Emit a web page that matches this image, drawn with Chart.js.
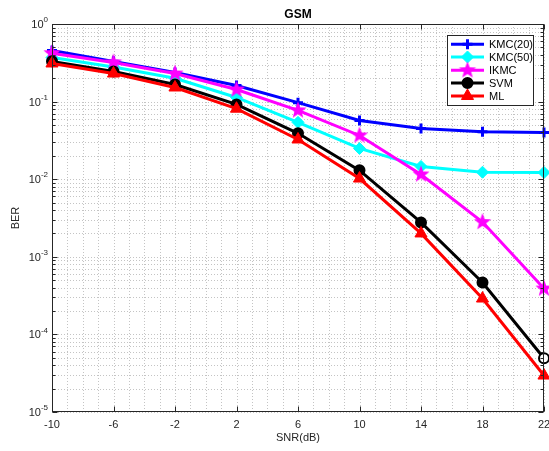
<!DOCTYPE html>
<html>
<head>
<meta charset="utf-8">
<script src="https://cdn.jsdelivr.net/npm/chart.js@4.4.1/dist/chart.umd.min.js"></script>
<style>
html, body { margin: 0; padding: 0; background: #fff; }
</style>
</head>
<body>
<canvas id="chart" width="549" height="451"></canvas>
<script>
const snr = [-10, -6, -2, 2, 6, 10, 14, 18, 22];
const kmc20 = [0.456, 0.33, 0.237, 0.161, 0.097, 0.057, 0.045, 0.041, 0.040];
const kmc50 = [0.37, 0.28, 0.20, 0.113, 0.054, 0.0249, 0.0146, 0.0123, 0.0122];
const ikmc = [0.42, 0.32, 0.23, 0.143, 0.077, 0.0366, 0.0115, 0.0028, 0.00039];
const svm = [0.33, 0.245, 0.166, 0.092, 0.039, 0.013, 0.00277, 0.000467, 0.0000493];
const ml = [0.31, 0.23, 0.152, 0.081, 0.0325, 0.0102, 0.0020, 0.00029, 0.0000295];
const seriesNames = ['KMC(20)', 'KMC(50)', 'IKMC', 'SVM', 'ML'];
const xTicks = [-10, -6, -2, 2, 6, 10, 14, 18, 22];
const yTickExps = [0, -1, -2, -3, -4, -5];

const FONT = '"Liberation Sans", Arial, sans-serif';
const TEXT = '#262626';

// filled five point star, matlab 'p' marker
function makeStar(color, r) {
    const c = document.createElement('canvas');
    const s = Math.ceil(r * 2 + 4);
    c.width = s; c.height = s;
    const g = c.getContext('2d');
    g.beginPath();
    for (let i = 0; i < 10; i++) {
        const rad = i % 2 === 0 ? r : r * 0.42;
        const ang = -Math.PI / 2 + i * Math.PI / 5;
        const px = s / 2 + rad * Math.cos(ang);
        const py = s / 2 + rad * Math.sin(ang);
        if (i === 0) g.moveTo(px, py); else g.lineTo(px, py);
    }
    g.closePath();
    g.fillStyle = color;
    g.fill();
    return c;
}
const starImg = makeStar('#ff00ff', 9);

const toPts = arr => snr.map((x, i) => ({ x: x, y: arr[i] }));

const svmFill = svm.map((v, i) => i === svm.length - 1 ? '#ffffff' : '#000000');

const datasets = [
    { label: seriesNames[0], data: toPts(kmc20), borderColor: '#0000ff', backgroundColor: '#0000ff',
      pointStyle: 'cross', pointRadius: 5, pointBorderWidth: 3 },
    { label: seriesNames[1], data: toPts(kmc50), borderColor: '#00ffff', backgroundColor: '#00ffff',
      pointStyle: 'rectRot', pointRadius: 6, pointBorderWidth: 1 },
    { label: seriesNames[2], data: toPts(ikmc), borderColor: '#ff00ff', backgroundColor: '#ff00ff',
      pointStyle: starImg, pointRadius: 9 },
    { label: seriesNames[3], data: toPts(svm), borderColor: '#000000', backgroundColor: svmFill,
      pointStyle: 'circle', pointRadius: 5, pointBorderWidth: 2 },
    { label: seriesNames[4], data: toPts(ml), borderColor: '#ff0000', backgroundColor: '#ff0000',
      pointStyle: 'triangle', pointRadius: 7, pointBorderWidth: 1 }
];
datasets.forEach(d => {
    d.borderWidth = 3;
    d.fill = false;
    d.tension = 0;
    d.clip = false;
    d.pointBorderColor = d.borderColor;
    d.pointBackgroundColor = d.backgroundColor;
});
// draw order like matlab: first series at the bottom
datasets.forEach((d, i) => d.order = datasets.length - i);

function drawPow(ctx, exp, xRight, yMid) {
    const sup = String(exp);
    ctx.font = '8px ' + FONT;
    const wSup = ctx.measureText(sup).width;
    ctx.font = '11px ' + FONT;
    const wBase = ctx.measureText('10').width;
    const x0 = xRight - wSup - wBase;
    ctx.textAlign = 'left';
    ctx.textBaseline = 'middle';
    ctx.fillText('10', x0, yMid + 1);
    ctx.font = '8px ' + FONT;
    ctx.fillText(sup, x0 + wBase, yMid - 4);
}

const matlabAxes = {
    id: 'matlabAxes',
    beforeDatasetsDraw(chart) {
        const { ctx, chartArea: a, scales: { x, y } } = chart;
        ctx.save();
        ctx.strokeStyle = '#c4c4c4';
        ctx.lineWidth = 1;
        ctx.setLineDash([1, 2]);
        for (let v = xTicks[0]; v <= xTicks[xTicks.length - 1]; v += 1) {
            const px = Math.round(x.getPixelForValue(v)) + 0.5;
            ctx.beginPath(); ctx.moveTo(px, a.top); ctx.lineTo(px, a.bottom); ctx.stroke();
        }
        for (let e = -5; e < 0; e++) {
            for (let m = 1; m < 10; m++) {
                const py = Math.round(y.getPixelForValue(m * Math.pow(10, e))) + 0.5;
                ctx.beginPath(); ctx.moveTo(a.left, py); ctx.lineTo(a.right, py); ctx.stroke();
            }
        }
        ctx.restore();
    },
    afterDraw(chart) {
        const { ctx, chartArea: a, scales: { x, y } } = chart;
        ctx.save();
        ctx.strokeStyle = TEXT;
        ctx.lineWidth = 1;
        ctx.setLineDash([]);
        const L = Math.round(a.left) + 0.5, R = Math.round(a.right) - 0.5;
        const T = Math.round(a.top) + 0.5, B = Math.round(a.bottom) - 0.5;
        ctx.strokeRect(L, T, R - L, B - T);

        // tick marks pointing in
        ctx.beginPath();
        xTicks.forEach(v => {
            const px = Math.round(x.getPixelForValue(v)) + 0.5;
            ctx.moveTo(px, B); ctx.lineTo(px, B - 5);
            ctx.moveTo(px, T); ctx.lineTo(px, T + 5);
        });
        for (let e = -5; e <= 0; e++) {
            for (let m = 1; m < 10; m++) {
                if (e === 0 && m > 1) break;
                const py = Math.round(y.getPixelForValue(m * Math.pow(10, e))) + 0.5;
                const len = m === 1 ? 5 : 3;
                ctx.moveTo(L, py); ctx.lineTo(L + len, py);
                ctx.moveTo(R, py); ctx.lineTo(R - len, py);
            }
        }
        ctx.stroke();

        ctx.fillStyle = TEXT;
        // x tick labels
        ctx.font = '11px ' + FONT;
        ctx.textAlign = 'center';
        ctx.textBaseline = 'middle';
        xTicks.forEach(v => ctx.fillText(String(v), x.getPixelForValue(v), a.bottom + 13));
        // y tick labels
        yTickExps.forEach(e => drawPow(ctx, e, a.left - 4, y.getPixelForValue(Math.pow(10, e))));

        // axis titles
        ctx.font = '11px ' + FONT;
        ctx.textAlign = 'center';
        ctx.textBaseline = 'middle';
        ctx.fillText('SNR(dB)', (a.left + a.right) / 2, 438);
        ctx.save();
        ctx.translate(16, (a.top + a.bottom) / 2);
        ctx.rotate(-Math.PI / 2);
        ctx.fillText('BER', 0, 0);
        ctx.restore();
        ctx.font = 'bold 12px ' + FONT;
        ctx.fillStyle = '#000';
        ctx.fillText('GSM', (a.left + a.right) / 2, 15);

        // legend
        const lx = 447.5, ly = 35.5, lw = 86, lh = 70;
        ctx.fillStyle = '#fff';
        ctx.fillRect(lx, ly, lw, lh);
        ctx.strokeStyle = TEXT;
        ctx.strokeRect(lx, ly, lw, lh);
        const rows = [44.3, 57, 70.3, 83, 96];
        chart.data.datasets.forEach((d, i) => {
            const ry = rows[i];
            ctx.strokeStyle = d.borderColor;
            ctx.lineWidth = 3;
            ctx.beginPath(); ctx.moveTo(451, ry); ctx.lineTo(484, ry); ctx.stroke();
            const opts = {
                pointStyle: d.pointStyle, radius: d.pointRadius, rotation: 0,
                borderWidth: d.pointBorderWidth || 1
            };
            ctx.fillStyle = i === 3 ? '#000' : d.backgroundColor;
            ctx.strokeStyle = d.borderColor;
            ctx.lineWidth = opts.borderWidth;
            Chart.helpers.drawPoint(ctx, opts, 467.5, ry);
            ctx.fillStyle = '#000';
            ctx.font = '11px ' + FONT;
            ctx.textAlign = 'left';
            ctx.textBaseline = 'middle';
            ctx.fillText(d.label, 489, ry + 0.5);
        });
        ctx.restore();
    }
};

new Chart(document.getElementById('chart'), {
    type: 'line',
    data: { datasets: datasets },
    options: {
        responsive: false,
        animation: false,
        devicePixelRatio: 1,
        layout: { autoPadding: false, padding: { top: 24, right: 5, left: 0, bottom: 0 } },
        plugins: { legend: { display: false }, tooltip: { enabled: false }, title: { display: false } },
        scales: {
            x: {
                type: 'linear', min: -10, max: 22,
                grid: { display: false }, border: { display: false },
                ticks: { display: false },
                afterFit: s => { s.height = 39; }
            },
            y: {
                type: 'logarithmic', min: 1e-5, max: 1,
                grid: { display: false }, border: { display: false },
                ticks: { display: false },
                afterFit: s => { s.width = 52; }
            }
        }
    },
    plugins: [matlabAxes]
});
</script>
</body>
</html>
